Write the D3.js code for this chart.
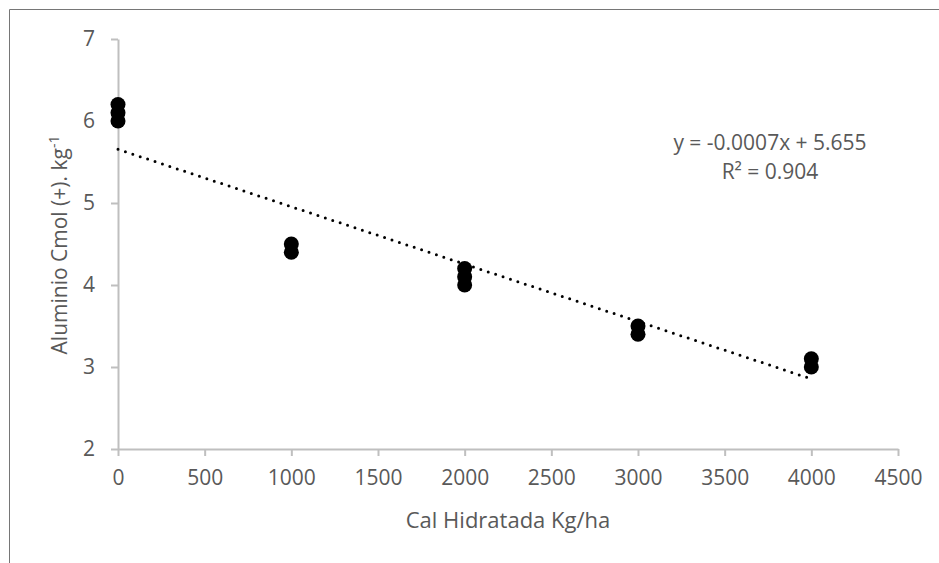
<!DOCTYPE html>
<html>
<head>
<meta charset="utf-8">
<script src="https://cdn.jsdelivr.net/npm/d3@7"></script>
<style>
  body { margin: 0; background: #fff; }
  text { font-family: "Open Sans", sans-serif; fill: #595959; }
</style>
</head>
<body>
<div id="chart"></div>
<script>
// dosis de cal (kg/ha) y aluminio medido
var dosis = [0, 0, 0, 1000, 1000, 2000, 2000, 2000, 3000, 3000, 4000, 4000];
var aluminio = [6.0, 6.1, 6.2, 4.4, 4.5, 4.0, 4.1, 4.2, 3.4, 3.5, 3.0, 3.1];
var xTicks = [0, 500, 1000, 1500, 2000, 2500, 3000, 3500, 4000, 4500];
var yTicks = [2, 3, 4, 5, 6, 7];
var pendiente = -0.0007, intercepto = 5.655;
var trendRange = [0, 4000];

var width = 939, height = 563;

var svg = d3.select('#chart')
    .append('svg')
    .attr('width', width)
    .attr('height', height);

// marco del grafico (solo arriba e izquierda visibles)
svg.append('path')
    .attr('d', 'M9.5,563 L9.5,9.5 L939,9.5')
    .attr('fill', 'none')
    .attr('stroke', '#767676')
    .attr('stroke-width', 1);

var x = d3.scaleLinear().domain([0, 4500]).range([118, 898]);
var y = d3.scaleLinear().domain([2, 7]).range([449, 39]);

var xAxis = svg.append('g')
    .attr('transform', 'translate(0,449)')
    .call(d3.axisBottom(x).tickValues(xTicks).tickFormat(d3.format('d'))
        .tickSize(7).tickSizeOuter(0).tickPadding(14));

var yAxis = svg.append('g')
    .attr('transform', 'translate(118,0)')
    .call(d3.axisLeft(y).tickValues(yTicks).tickFormat(d3.format('d'))
        .tickSize(7).tickSizeOuter(0).tickPadding(16));

[xAxis, yAxis].forEach(function(ax) {
    ax.select('.domain').attr('stroke', '#bfbfbf').attr('stroke-width', 2);
    ax.selectAll('.tick line').attr('stroke', '#bfbfbf').attr('stroke-width', 2);
    ax.selectAll('.tick text')
        .attr('fill', '#595959')
        .style('font-size', '21px')
        .style('font-family', '"Open Sans", sans-serif');
});

// linea de tendencia
svg.append('line')
    .attr('x1', x(trendRange[0]))
    .attr('y1', y(intercepto + pendiente * trendRange[0]))
    .attr('x2', x(trendRange[1]))
    .attr('y2', y(intercepto + pendiente * trendRange[1]))
    .attr('stroke', '#000')
    .attr('stroke-width', 3)
    .attr('stroke-linecap', 'round')
    .attr('stroke-dasharray', '0,7.8');

svg.selectAll('circle.pt')
    .data(dosis)
    .enter()
    .append('circle')
    .attr('class', 'pt')
    .attr('cx', function(d) { return x(d); })
    .attr('cy', function(d, i) { return y(aluminio[i]); })
    .attr('r', 7.5)
    .attr('fill', '#000');

// titulos
svg.append('text')
    .attr('x', 508)
    .attr('y', 528)
    .attr('text-anchor', 'middle')
    .style('font-size', '22px')
    .text('Cal Hidratada Kg/ha');

var yt = svg.append('text')
    .attr('transform', 'translate(67,245) rotate(-90)')
    .attr('text-anchor', 'middle')
    .style('font-size', '21px');
yt.append('tspan').text('Aluminio Cmol (+). kg');
yt.append('tspan').attr('dy', -8).style('font-size', '14px').text('-1');

var eq = svg.append('text')
    .attr('text-anchor', 'middle')
    .style('font-size', '21px');
eq.append('tspan').attr('x', 770).attr('y', 150).text('y = -0.0007x + 5.655');
eq.append('tspan').attr('x', 770).attr('y', 179).text('R² = 0.904');
</script>
</body>
</html>
